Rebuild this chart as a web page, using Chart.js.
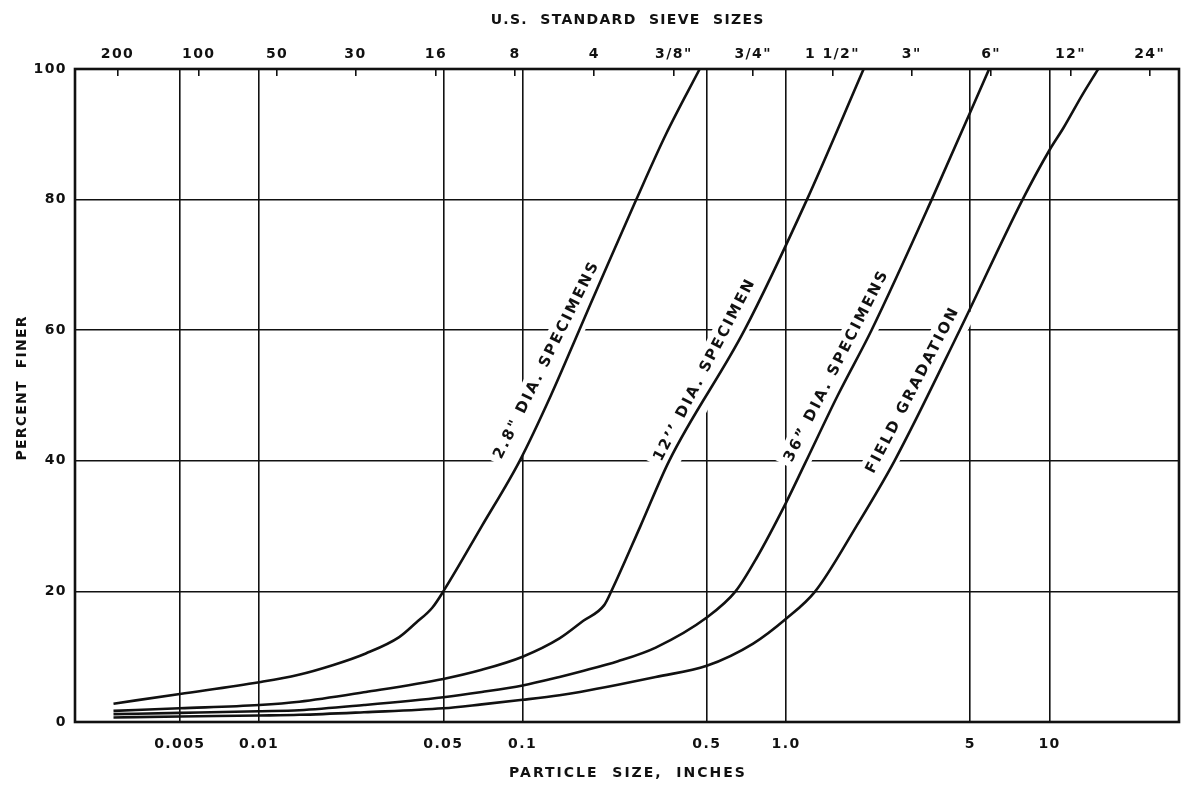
<!DOCTYPE html>
<html>
<head>
<meta charset="utf-8">
<title>Gradation curves</title>
<script src="https://cdn.jsdelivr.net/npm/chart.js@4/dist/chart.umd.min.js"></script>
<style>
  html, body { margin: 0; padding: 0; background: #fff; }
  #wrap { width: 1184px; height: 788px; }
</style>
</head>
<body>
<div id="wrap"><canvas id="chart" width="1184" height="788"></canvas></div>
<script>
// ---- Axis definitions -------------------------------------------------
const sizeMin = 0.002;          // inches, left edge of the sheet
const sizeMax = 31;             // inches, right edge of the sheet
const sizeTicks = [0.005, 0.01, 0.05, 0.1, 0.5, 1, 5, 10];
const sizeTickLabels = ['0.005', '0.01', '0.05', '0.1', '0.5', '1.0', '5', '10'];

// U.S. standard sieve openings (inches) and sieve designations
const sieveOpenings = [0.0029, 0.0059, 0.0117, 0.0232, 0.0469, 0.0937, 0.187, 0.375, 0.75, 1.5, 3, 6, 12, 24];
const sieveLabels = ['200', '100', '50', '30', '16', '8', '4', '3/8"', '3/4"', '1 1/2"', '3"', '6"', '12"', '24"'];

const finerTicks = [0, 20, 40, 60, 80, 100];

// ---- Gradation curves (particle size in inches, percent finer) --------
const curveNames = ['2.8" DIA. SPECIMENS', '12\u2019\u2019 DIA. SPECIMEN', '36\u201D DIA. SPECIMENS', 'FIELD GRADATION'];

const spec28Size  = [0.0028, 0.005, 0.01, 0.014, 0.019, 0.0254, 0.034, 0.0394, 0.0454, 0.05, 0.07, 0.0975, 0.128, 0.164, 0.21, 0.27, 0.35, 0.47];
const spec28Finer = [2.8, 4.3, 6.1, 7.2, 8.7, 10.5, 13, 15.2, 17.5, 20, 30, 40, 50, 60, 70, 80, 90, 100];

const spec12Size  = [0.0028, 0.005, 0.01, 0.0142, 0.0254, 0.05, 0.07, 0.1, 0.138, 0.17, 0.204, 0.217, 0.28, 0.36, 0.695, 1.2, 1.97];
const spec12Finer = [1.7, 2.1, 2.6, 3.1, 4.6, 6.6, 8, 10, 12.8, 15.5, 17.9, 20, 30, 40, 60, 80, 100];

const spec36Size  = [0.0028, 0.005, 0.01, 0.0142, 0.025, 0.05, 0.07, 0.1, 0.138, 0.165, 0.23, 0.32, 0.5, 0.643, 0.77, 1.0, 1.18, 1.57, 2.11, 3.57, 5.9];
const spec36Finer = [1.2, 1.4, 1.65, 1.8, 2.6, 3.8, 4.6, 5.6, 6.9, 7.7, 9.3, 11.4, 16, 20, 25, 33.6, 39.6, 50, 60, 80, 100];

const fieldSize  = [0.0028, 0.005, 0.01, 0.0142, 0.025, 0.05, 0.07, 0.1, 0.138, 0.165, 0.23, 0.32, 0.5, 0.75, 1.0, 1.29, 1.85, 2.58, 4.56, 7.9, 10, 11.3, 13.3, 15.3];
const fieldFiner = [0.7, 0.85, 1.0, 1.1, 1.5, 2.1, 2.7, 3.4, 4.1, 4.6, 5.7, 6.9, 8.6, 12, 15.8, 20, 30, 40, 60, 80, 87.6, 91, 96, 100];

// ---- Styling ----------------------------------------------------------
const FONT = "'DejaVu Sans', 'Liberation Sans', sans-serif";
const INK = '#111';

// Rotated captions written beside each curve (anchored in data units)
const curveCaptions = [
  { text: curveNames[0], size: 0.123, finer: 55.3, angle: -63.5 },
  { text: curveNames[1], size: 0.49,  finer: 53.8, angle: -62.5 },
  { text: curveNames[2], size: 1.55,  finer: 54.4, angle: -63 },
  { text: curveNames[3], size: 3.02,  finer: 50.7, angle: -62.5 }
];

function toPoints(xs, ys) { return xs.map((v, i) => ({ x: v, y: ys[i] })); }

function curve(xs, ys) {
  return {
    data: toPoints(xs, ys),
    borderColor: INK,
    borderWidth: 2.6,
    pointRadius: 0,
    fill: false,
    cubicInterpolationMode: 'monotone',
    xAxisID: 'x',
    yAxisID: 'y'
  };
}

function spacedText(ctx, text, x, y, spacing) {
  ctx.letterSpacing = spacing + 'px';
  const w = ctx.measureText(text).width - spacing;
  ctx.textAlign = 'left';
  ctx.fillText(text, x - w / 2, y);
}

const CAPTION_FONT = `bold 15px ${FONT}`;
const CAPTION_SPACING = 2.2;
const TICK_SPACING = '1.4px';

// Draws the sheet frame, the curve captions and the axis titles
const sheetPlugin = {
  id: 'sheet',
  afterInit(chart) { chart.ctx.letterSpacing = TICK_SPACING; },
  beforeUpdate(chart) { chart.ctx.letterSpacing = TICK_SPACING; },
  beforeDraw(chart) { chart.ctx.letterSpacing = TICK_SPACING; },
  beforeDatasetsDraw(chart) {
    const { ctx, scales: { x, y } } = chart;
    ctx.save();
    ctx.fillStyle = '#fff';
    ctx.font = CAPTION_FONT;
    curveCaptions.forEach(c => {
      const px = x.getPixelForValue(c.size), py = y.getPixelForValue(c.finer);
      ctx.letterSpacing = CAPTION_SPACING + 'px';
      const w = ctx.measureText(c.text).width;
      ctx.save();
      ctx.translate(px, py);
      ctx.rotate(c.angle * Math.PI / 180);
      // clear the grid under the caption, out to the curve it names
      ctx.fillRect(-w / 2 - 4, -12, w + 8, 33);
      ctx.restore();
    });
    ctx.restore();
  },
  afterDatasetsDraw(chart) {
    const { ctx, chartArea: a, scales: { x, y } } = chart;
    ctx.save();
    // frame
    ctx.strokeStyle = INK;
    ctx.lineWidth = 2.6;
    ctx.strokeRect(a.left, a.top, a.right - a.left, a.bottom - a.top);

    // curve captions
    ctx.fillStyle = INK;
    ctx.font = CAPTION_FONT;
    ctx.textBaseline = 'middle';
    curveCaptions.forEach(c => {
      const px = x.getPixelForValue(c.size), py = y.getPixelForValue(c.finer);
      ctx.save();
      ctx.translate(px, py);
      ctx.rotate(c.angle * Math.PI / 180);
      spacedText(ctx, c.text, 0, 0, CAPTION_SPACING);
      ctx.restore();
    });

    // axis titles
    const cx = (a.left + a.right) / 2;
    ctx.font = `bold 14px ${FONT}`;
    spacedText(ctx, 'U.S.  STANDARD  SIEVE  SIZES', cx, 20, 1.3);
    spacedText(ctx, 'PARTICLE  SIZE,  INCHES', cx, 773, 2.0);
    ctx.save();
    ctx.translate(22, (a.top + a.bottom) / 2 - 7);
    ctx.rotate(-Math.PI / 2);
    spacedText(ctx, 'PERCENT  FINER', 0, 0, 1.2);
    ctx.restore();
    ctx.restore();
  }
};

const tickFont = { family: FONT, size: 14, weight: 'bold' };

new Chart(document.getElementById('chart'), {
  type: 'line',
  data: {
    datasets: [
      curve(spec28Size, spec28Finer),
      curve(spec12Size, spec12Finer),
      curve(spec36Size, spec36Finer),
      curve(fieldSize, fieldFiner)
    ]
  },
  options: {
    responsive: false,
    animation: false,
    devicePixelRatio: 1,
    layout: { padding: { left: 0, right: 5, top: 0, bottom: 0 } },
    plugins: { legend: { display: false }, tooltip: { enabled: false } },
    scales: {
      x: {
        type: 'logarithmic',
        position: 'bottom',
        min: sizeMin,
        max: sizeMax,
        afterBuildTicks: s => { s.ticks = sizeTicks.map(v => ({ value: v })); },
        afterFit: s => { s.height = 66; },
        ticks: {
          autoSkip: false, maxRotation: 0, minRotation: 0, padding: 14,
          color: INK, font: tickFont,
          callback: (v, i) => sizeTickLabels[i]
        },
        grid: { color: INK, lineWidth: 1.6, drawTicks: false },
        border: { display: false }
      },
      x2: {
        type: 'logarithmic',
        position: 'top',
        min: sizeMin,
        max: sizeMax,
        afterBuildTicks: s => { s.ticks = sieveOpenings.map(v => ({ value: v })); },
        afterFit: s => { s.height = 69; },
        ticks: {
          autoSkip: false, maxRotation: 0, minRotation: 0, padding: 13,
          color: INK, font: tickFont,
          callback: (v, i) => sieveLabels[i]
        },
        grid: { color: INK, lineWidth: 1.6, drawOnChartArea: false, drawTicks: true, tickLength: -7 },
        border: { display: false }
      },
      y: {
        type: 'linear',
        position: 'left',
        min: 0,
        max: 100,
        afterBuildTicks: s => { s.ticks = finerTicks.map(v => ({ value: v })); },
        afterFit: s => { s.width = 75; },
        ticks: { padding: 8, color: INK, font: tickFont },
        grid: { color: INK, lineWidth: 1.6, drawTicks: false },
        border: { display: false }
      }
    }
  },
  plugins: [sheetPlugin]
});
</script>
</body>
</html>
